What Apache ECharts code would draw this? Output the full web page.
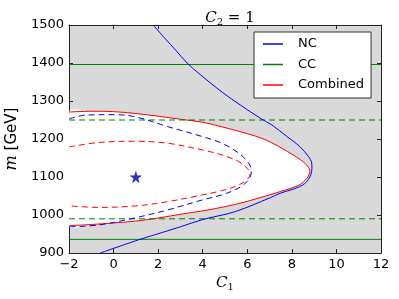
<!DOCTYPE html>
<html><head><meta charset="utf-8">
<script src="https://cdn.jsdelivr.net/npm/echarts@6/dist/echarts.min.js"></script>
<style>html,body{margin:0;padding:0;background:#fff}#c{width:399px;height:299px}</style>
</head><body><div id="c"></div>
<script>
// axis ranges / ticks
const xRange = [-2, 12, 2];
const yRange = [900, 1500, 100];

// NC (blue) contours
const ncSolid = [[1.78,1500],[2.3,1465],[2.8,1433],[3.3,1400],[3.9,1369],[4.9,1322],[5.7,1289],[6.6,1254],[7.1,1237],[7.77,1207],[8.36,1180],[8.74,1154],[8.89,1137],[8.9,1123],[8.74,1093],[8.36,1075],[7.47,1057],[7.05,1046],[5.46,1009],[4.0,988],[3.0,969],[1.8,947],[1.19,936],[-0.6,900]];
const ncDashed = [[-2,1253],[-1.24,1263],[0.1,1264],[1,1258],[2.41,1233],[4,1206],[4.86,1189],[5.61,1163],[6.06,1137],[6.18,1114],[6.06,1093],[5.61,1071],[4.86,1053],[4,1040],[2.41,1013],[1,993],[-0.64,974],[-2,969]];

// CC (green) levels, horizontal lines
const ccSolid = [936, 1396];
const ccDashed = [990, 1250];

// Combined (red) contours
const combSolid = [[-2,1271],[-1,1273],[0,1272],[1,1267],[2,1260],[3,1252],[4,1244],[5,1230],[6,1214],[6.6,1203],[7.1,1190],[7.6,1174],[8.0,1160],[8.4,1145],[8.65,1132],[8.8,1118],[8.75,1103],[8.6,1092],[8.3,1078],[7.5,1062],[7.0,1053],[6.0,1036],[5.0,1022],[4.0,1011],[3.0,1002],[2.0,992],[1.0,984],[0,979],[-1,975],[-2,972]];
const combDashed = [[-2,1179],[-0.64,1191],[1,1194],[2.41,1189],[4,1171],[4.86,1158],[5.61,1141],[5.99,1123],[6.13,1110],[5.99,1093],[5.46,1075],[4.71,1062],[4,1053],[2.41,1035],[1,1024],[-0.64,1020],[-2,1024]];

// best-fit point
const bestFit = [[1, 1100]];

const BLUE = '#0000ff', GREEN = '#008000', RED = '#ff0000';
const FONT = 'DejaVu Sans';
const SMOOTH = 0.35;
const fmt = v => (v < 0 ? '\u2212' + Math.abs(v) : String(v));

function hline(level, name, color, type) {
  return {
    type: 'line', name: name, data: [[xRange[0], level], [xRange[1], level]],
    showSymbol: false, symbol: 'none', silent: true, z: 3,
    itemStyle: { color: color },
    lineStyle: { color: color, width: 1, type: type }
  };
}
function contour(data, name, color, type) {
  return {
    type: 'line', name: name, data: data, showSymbol: false, symbol: 'none', smooth: SMOOTH,
    silent: true, z: 4, clip: true,
    itemStyle: { color: color },
    lineStyle: { color: color, width: 1, type: type }
  };
}

const axisCommon = {
  type: 'value',
  axisLine: { show: true, onZero: false, lineStyle: { color: '#222', width: 1 } },
  axisTick: { show: true, inside: true, length: 4, lineStyle: { color: '#222' } },
  splitLine: { show: false }
};

const chart = echarts.init(document.getElementById('c'), null, { renderer: 'canvas' });
chart.setOption({
  animation: false,
  backgroundColor: '#fff',
  title: {
    text: '{c|C}{s|2}{e| = 1}', left: 225, top: 5, textAlign: 'center',
    textStyle: { fontWeight: 'normal', rich: {
      c: { fontFamily: 'DejaVu Serif', fontStyle: 'italic', fontWeight: 'normal', fontSize: 15, color: '#000' },
      s: { fontFamily: 'DejaVu Serif', fontWeight: 'normal', fontSize: 10, color: '#000', padding: [7, 0, 0, 0] },
      e: { fontFamily: 'DejaVu Serif', fontWeight: 'normal', fontSize: 15, color: '#000' }
    } }
  },
  grid: { left: 69, top: 25, width: 312, height: 228, show: true, backgroundColor: '#d9d9d9', borderWidth: 0,
          containLabel: false, outerBoundsMode: 'none' },
  legend: {
    orient: 'vertical', left: 254, top: 32, padding: [5, 7, 6, 9],
    data: ['NC', 'CC', 'Combined'], icon: 'rect', itemWidth: 20, itemHeight: 1.5, itemGap: 6.5,
    backgroundColor: '#fff', borderColor: '#333', borderWidth: 1, borderRadius: 0,
    textStyle: { fontFamily: FONT, fontSize: 13, color: '#000', lineHeight: 14, padding: [0, 0, 0, 10] }
  },
  xAxis: [
    Object.assign({}, axisCommon, {
      position: 'bottom', min: xRange[0], max: xRange[1], interval: xRange[2],
      axisLabel: { fontFamily: FONT, fontSize: 13, color: '#000', margin: 5, formatter: fmt },
      name: '{i|C}{s|1}', nameLocation: 'middle', nameGap: 22,
      nameTextStyle: { rich: {
        i: { fontFamily: 'DejaVu Serif', fontStyle: 'italic', fontSize: 15, color: '#000' },
        s: { fontFamily: 'DejaVu Serif', fontSize: 10, color: '#000', padding: [7, 0, 0, 0] }
      } }
    }),
    Object.assign({}, axisCommon, {
      position: 'top', min: xRange[0], max: xRange[1], interval: xRange[2], axisLabel: { show: false }
    })
  ],
  yAxis: [
    Object.assign({}, axisCommon, {
      position: 'left', min: yRange[0], max: yRange[1], interval: yRange[2],
      axisLabel: { fontFamily: FONT, fontSize: 13, color: '#000', margin: 5, formatter: v => String(v) },
      name: '{i|m}{t| [GeV]}', nameLocation: 'middle', nameRotate: 90, nameGap: 39,
      nameTextStyle: { rich: {
        i: { fontFamily: 'DejaVu Serif', fontStyle: 'italic', fontSize: 16, color: '#000' },
        t: { fontFamily: FONT, fontSize: 15, color: '#000' }
      } }
    }),
    Object.assign({}, axisCommon, {
      position: 'right', min: yRange[0], max: yRange[1], interval: yRange[2], axisLabel: { show: false }
    })
  ],
  series: [
    {
      // allowed region (inside combined contour) in white, drawn with its red border
      type: 'custom', name: 'Combined', silent: true, clip: true, z: 2,
      itemStyle: { color: RED },
      data: [[0, 1100]],
      renderItem: function (params, api) {
        const pts = combSolid.map(p => api.coord(p));
        return {
          type: 'group', children: [
            { type: 'polygon', shape: { points: pts, smooth: SMOOTH }, style: { fill: '#ffffff', stroke: null } },
            { type: 'polyline', shape: { points: pts, smooth: SMOOTH }, style: { fill: null, stroke: RED, lineWidth: 1 }, z2: 5 }
          ]
        };
      }
    },
    hline(ccSolid[0], 'CC', GREEN, 'solid'),
    hline(ccSolid[1], 'CC', GREEN, 'solid'),
    hline(ccDashed[0], 'CC 1s', GREEN, [6, 4]),
    hline(ccDashed[1], 'CC 1s', GREEN, [6, 4]),
    contour(ncSolid, 'NC', BLUE, 'solid'),
    contour(ncDashed, 'NC 1s', BLUE, [6, 4]),
    contour(combDashed, 'Combined 1s', RED, [6, 4]),
    {
      type: 'scatter', name: 'best fit', data: bestFit, z: 6, silent: true,
      symbol: 'path://M50,0 L61,35 L98,35 L68,57 L79,91 L50,70 L21,91 L32,57 L2,35 L39,35 Z',
      symbolSize: 11,
      itemStyle: { color: '#0000bb', borderColor: '#000055', borderWidth: 0.5 }
    }
  ]
});
</script></body></html>
